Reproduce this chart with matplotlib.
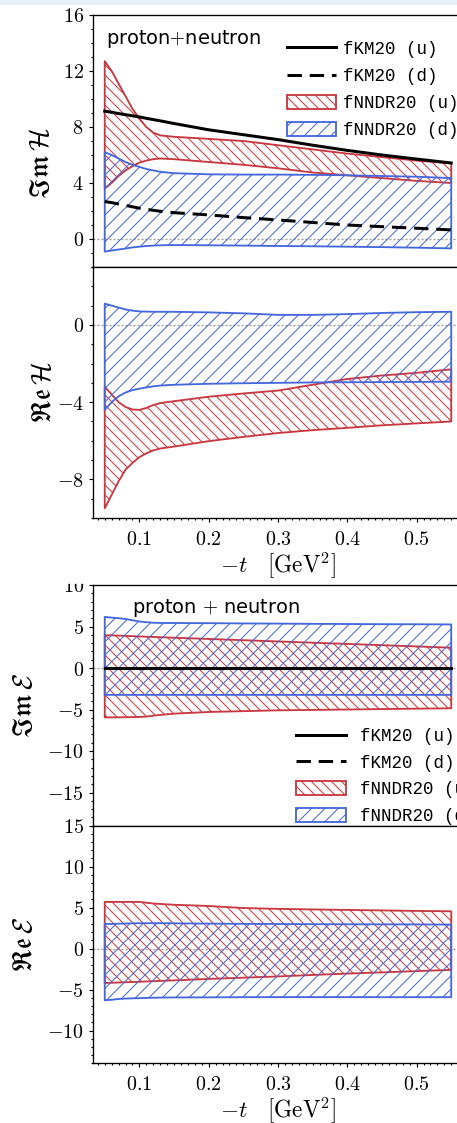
import matplotlib
matplotlib.use("Agg")
import matplotlib.pyplot as plt
import matplotlib.patches as mpatches
from matplotlib.lines import Line2D
from matplotlib.ticker import MultipleLocator, FuncFormatter

# -t grid [GeV^2]
t = [0.05, 0.06, 0.07, 0.08, 0.09, 0.10, 0.11, 0.12, 0.13, 0.15,
     0.20, 0.25, 0.30, 0.35, 0.40, 0.45, 0.50, 0.55]

# Im H
imH_km_u = [9.13, 9.05, 8.96, 8.88, 8.80, 8.72, 8.62, 8.53, 8.44, 8.25,
            7.80, 7.45, 7.10, 6.70, 6.33, 6.00, 5.71, 5.43]
imH_km_d = [2.67, 2.60, 2.50, 2.40, 2.30, 2.20, 2.12, 2.05, 1.98, 1.88,
            1.72, 1.53, 1.36, 1.18, 1.00, 0.88, 0.77, 0.65]
imH_nn_u_hi = [12.7, 12.0, 11.1, 10.2, 9.3, 8.6, 8.0, 7.6, 7.4, 7.3,
               7.15, 7.0, 6.7, 6.4, 6.1, 5.85, 5.6, 5.4]
imH_nn_u_lo = [3.6, 4.0, 4.5, 4.9, 5.2, 5.45, 5.6, 5.7, 5.75, 5.7,
               5.5, 5.3, 5.05, 4.75, 4.55, 4.35, 4.15, 4.0]
imH_nn_d_hi = [6.2, 6.0, 5.75, 5.5, 5.3, 5.15, 5.0, 4.9, 4.8, 4.7,
               4.62, 4.6, 4.6, 4.58, 4.55, 4.5, 4.45, 4.35]
imH_nn_d_lo = [-0.9, -0.82, -0.75, -0.68, -0.6, -0.55, -0.5, -0.47, -0.45, -0.43,
               -0.45, -0.47, -0.5, -0.52, -0.55, -0.58, -0.62, -0.67]

# Re H
reH_nn_u_hi = [-3.2, -3.6, -4.0, -4.25, -4.38, -4.4, -4.3, -4.15, -4.05, -3.95,
               -3.72, -3.55, -3.4, -3.1, -2.8, -2.62, -2.48, -2.3]
reH_nn_u_lo = [-9.5, -8.8, -8.1, -7.5, -7.15, -6.85, -6.65, -6.5, -6.4, -6.3,
               -6.02, -5.8, -5.6, -5.45, -5.33, -5.2, -5.1, -5.0]
reH_nn_d_hi = [1.1, 1.0, 0.9, 0.8, 0.74, 0.7, 0.69, 0.68, 0.68, 0.68,
               0.65, 0.6, 0.52, 0.52, 0.56, 0.62, 0.66, 0.68]
reH_nn_d_lo = [-4.4, -4.0, -3.7, -3.5, -3.38, -3.3, -3.24, -3.18, -3.14, -3.1,
               -3.05, -3.02, -3.0, -2.98, -2.97, -2.96, -2.95, -2.94]

# Im E
imE_km_u = [0.0] * 18
imE_km_d = [0.0] * 18
imE_nn_u_hi = [3.95, 3.93, 3.9, 3.87, 3.84, 3.8, 3.77, 3.74, 3.71, 3.65,
               3.5, 3.35, 3.2, 3.05, 2.9, 2.75, 2.6, 2.45]
imE_nn_u_lo = [-5.95, -5.95, -5.94, -5.93, -5.92, -5.9, -5.85, -5.75, -5.65, -5.5,
               -5.3, -5.2, -5.1, -5.05, -5.0, -4.95, -4.9, -4.85]
imE_nn_d_hi = [6.15, 6.07, 6.0, 5.9, 5.75, 5.6, 5.52, 5.45, 5.43, 5.42,
               5.4, 5.37, 5.35, 5.32, 5.3, 5.28, 5.27, 5.25]
imE_nn_d_lo = [-3.24] * 18

# Re E
reE_nn_u_hi = [5.7, 5.7, 5.7, 5.7, 5.7, 5.7, 5.6, 5.5, 5.45, 5.35,
               5.2, 4.95, 4.85, 4.78, 4.72, 4.66, 4.6, 4.55]
reE_nn_u_lo = [-4.2, -4.17, -4.14, -4.11, -4.08, -4.05, -4.01, -3.98, -3.94, -3.88,
               -3.7, -3.55, -3.4, -3.22, -3.05, -2.9, -2.75, -2.6]
reE_nn_d_hi = [3.0, 3.02, 3.04, 3.06, 3.08, 3.1, 3.1, 3.1, 3.1, 3.08,
               3.05, 3.02, 3.0, 2.98, 2.97, 2.96, 2.95, 2.93]
reE_nn_d_lo = [-6.3, -6.25, -6.15, -6.1, -6.07, -6.05, -6.02, -6.0, -5.98, -5.96,
               -5.95, -5.93, -5.92, -5.92, -5.92, -5.93, -5.93, -5.93]

labels = ["fKM20 (u)", "fKM20 (d)", "fNNDR20 (u)", "fNNDR20 (d)"]

RED = "#c8363f"
BLUE = "#4466dd"
DPI = 120
W, H = 457, 1123

plt.rcParams["mathtext.fontset"] = "cm"
plt.rcParams["hatch.linewidth"] = 0.6


def rect(left, top, right, bottom):
    # pixel box -> figure fraction
    return [left / W, 1 - bottom / H, (right - left) / W, (bottom - top) / H]


def style(ax, ylim, major, show_x):
    ax.set_xlim(0.0335, 0.567)
    ax.set_ylim(*ylim)
    ax.xaxis.set_major_locator(MultipleLocator(0.1))
    ax.xaxis.set_minor_locator(MultipleLocator(0.01))
    ax.yaxis.set_major_locator(MultipleLocator(major))
    ax.yaxis.set_minor_locator(MultipleLocator(1))
    ax.xaxis.set_major_formatter(FuncFormatter(lambda v, p: r"$%g$" % round(v, 2)))
    ax.yaxis.set_major_formatter(FuncFormatter(lambda v, p: r"$%g$" % v))
    ax.tick_params(which="both", direction="out", width=0.7, labelsize=12)
    ax.tick_params(which="major", length=2.4)
    ax.tick_params(which="minor", length=1.4)
    ax.tick_params(axis="y", pad=3.4)
    ax.tick_params(axis="x", pad=4.6, labelbottom=show_x)
    for s in ax.spines.values():
        s.set_linewidth(0.8)
    ax.axhline(0, color="0.6", lw=0.8, ls=(0, (1.5, 1.5)), zorder=0)
    if show_x:
        ax.set_xlabel(r"$-t\quad[\mathrm{GeV}^2]$", fontsize=14, labelpad=1)


def bands(ax, u_lo, u_hi, d_lo, d_hi):
    ax.fill_between(t, u_lo, u_hi, facecolor="none", edgecolor=RED,
                    hatch="\\\\\\\\", lw=1.1)
    ax.fill_between(t, d_lo, d_hi, facecolor="none", edgecolor=BLUE,
                    hatch="///", lw=1.1)


def legend_handles():
    return [Line2D([], [], color="k", lw=1.8),
            Line2D([], [], color="k", lw=1.8, dashes=(4.8, 2.6)),
            mpatches.Patch(facecolor="none", edgecolor=RED, hatch="\\\\\\\\", lw=1.1),
            mpatches.Patch(facecolor="none", edgecolor=BLUE, hatch="///", lw=1.1)]


fig = plt.figure(figsize=(W / DPI, H / DPI), dpi=DPI)
fig.patches.append(mpatches.Rectangle((0, 1 - 4 / H), 1, 4 / H, transform=fig.transFigure,
                                      color="#e4f1fa", zorder=0))

ax1 = fig.add_axes(rect(93.3, 15, 463, 267))
ax2 = fig.add_axes(rect(93.3, 267, 463, 518))
ax3 = fig.add_axes(rect(93.3, 585, 463, 825.7))
ax4 = fig.add_axes(rect(93.3, 825.7, 463, 1063.3))

# Im H
bands(ax1, imH_nn_u_lo, imH_nn_u_hi, imH_nn_d_lo, imH_nn_d_hi)
ax1.plot(t, imH_km_u, color="k", lw=1.8)
ax1.plot(t, imH_km_d, color="k", lw=1.8, dashes=(4.8, 2.6))
style(ax1, (-2, 16), 4, False)
ax1.set_ylabel(r"$\mathfrak{Im}\,\mathcal{H}$", fontsize=16)
ax1.yaxis.set_label_coords(-0.104, 0.413)
ax1.text(0.033, 0.885, r"proton$+$neutron", transform=ax1.transAxes, fontsize=11.6)
ax1.legend(legend_handles(), labels, loc="upper left", bbox_to_anchor=(0.48, 0.96),
           frameon=False, prop={"family": "Liberation Mono", "size": 10.5},
           handlelength=2.85, handleheight=0.85, handletextpad=0.4, labelspacing=0.58)

# Re H
bands(ax2, reH_nn_u_lo, reH_nn_u_hi, reH_nn_d_lo, reH_nn_d_hi)
style(ax2, (-10, 3), 4, True)
ax2.set_ylabel(r"$\mathfrak{Re}\,\mathcal{H}$", fontsize=16)
ax2.yaxis.set_label_coords(-0.098, 0.5)

# Im E
bands(ax3, imE_nn_u_lo, imE_nn_u_hi, imE_nn_d_lo, imE_nn_d_hi)
ax3.plot(t, imE_km_d, color="k", lw=1.8, dashes=(4.8, 2.6))
ax3.plot(t, imE_km_u, color="k", lw=1.8)
style(ax3, (-19, 10), 5, False)
ax3.set_ylabel(r"$\mathfrak{Im}\,\mathcal{E}$", fontsize=16)
ax3.yaxis.set_label_coords(-0.15, 0.5)
ax3.text(0.105, 0.885, r"proton $+$ neutron", transform=ax3.transAxes, fontsize=11.6)
ax3.legend(legend_handles(), labels, loc="upper left", bbox_to_anchor=(0.505, 0.47),
           frameon=False, prop={"family": "Liberation Mono", "size": 10.5},
           handlelength=2.85, handleheight=0.85, handletextpad=0.85, labelspacing=0.54)

# Re E
bands(ax4, reE_nn_u_lo, reE_nn_u_hi, reE_nn_d_lo, reE_nn_d_hi)
style(ax4, (-14, 15), 5, True)
ax4.set_ylabel(r"$\mathfrak{Re}\,\mathcal{E}$", fontsize=16)
ax4.yaxis.set_label_coords(-0.15, 0.5)

# the lower panel pair is cut off just above its top tick label
fig.patches.append(mpatches.Rectangle((0, 1 - 583 / H), 90 / W, 8 / H, transform=fig.transFigure,
                                      color="white", zorder=10))

fig.savefig("out.png", dpi=DPI)
